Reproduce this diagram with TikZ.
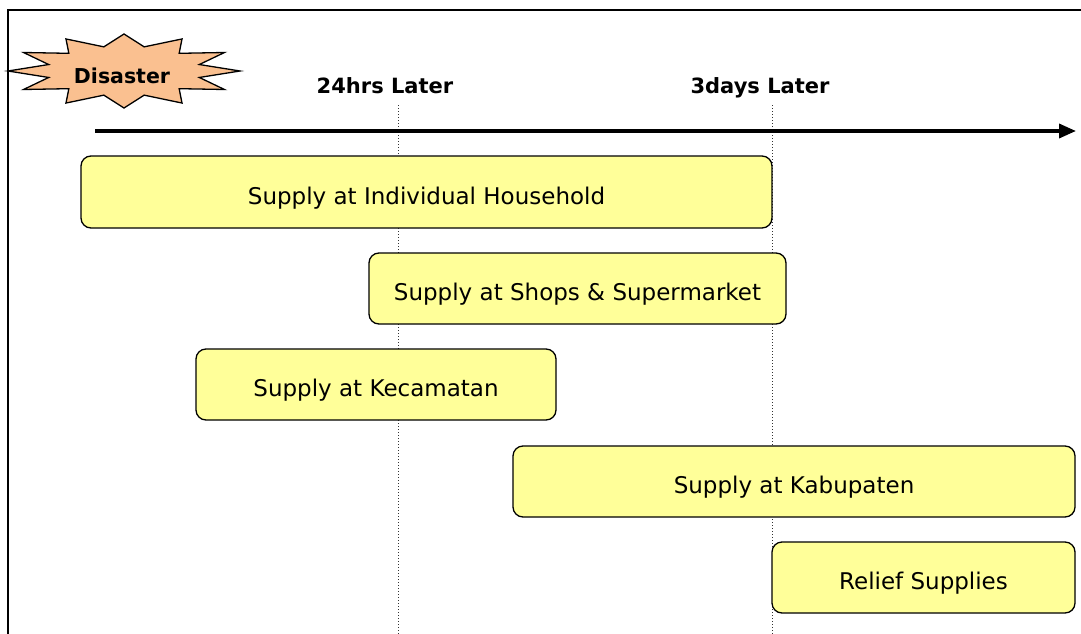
\documentclass[tikz,border=0pt]{standalone}
\usepackage{fontspec}
\setmainfont{DejaVu Sans}
\usetikzlibrary{arrows.meta}
\definecolor{phaseyellow}{HTML}{FFFF99}
\definecolor{burstpeach}{HTML}{FAC090}
\begin{document}
\begin{tikzpicture}[
    x=1pt, y=-1pt,
    phase/.style={draw, line width=1.3pt, rounded corners=10pt, fill=phaseyellow, font=\fontsize{23}{27}\selectfont, inner sep=0pt, text height=24pt, text depth=0pt},
    marker/.style={font=\fontsize{21}{25}\selectfont\bfseries, anchor=base},
    burst/.style={draw, line width=1.3pt, fill=burstpeach, line join=miter},
    timeline/.style={line width=3.5pt, -{Triangle[length=17pt,width=14pt]}},
    guide/.style={dotted, line width=1pt, black!80}
]
\useasboundingbox (0,0) rectangle (1081,634);

% Frame
\draw[line width=2pt] (8,640) -- (8,10) -- (1090,10);

% Guides
\coordinate (g1top) at (398,105);
\coordinate (g1bot) at (398,634);
\coordinate (g2top) at (772,105);
\coordinate (g2bot) at (772,634);
\draw[guide] (g1top) -- (g1bot);
\draw[guide] (g2top) -- (g2bot);

% Time axis
\coordinate (tstart) at (95,131);
\coordinate (tend) at (1076,131);
\draw[timeline] (tstart) -- (tend);

% Disaster burst
\draw[burst] plot[samples at={0,...,23}]
    ({124 + (mod(\x,2)==0 ? 116 : 78)*cos(\x*15)},
     {71 + (mod(\x,2)==0 ? 37 : 25)*sin(\x*15)}) -- cycle;
\node[font=\fontsize{20.5}{24}\selectfont\bfseries, anchor=base] (disaster) at (122,83) {Disaster};

% Labels
\node[marker] (day1) at (385,93) {24hrs Later};
\node[marker] (day3) at (760,93) {3days Later};

% Supply phases
\node[phase, minimum width=691pt, minimum height=72pt] (house) at (426.5,192) {Supply at Individual Household};
\node[phase, minimum width=417pt, minimum height=71pt] (shops) at (577.5,288.5) {Supply at Shops \& Supermarket};
\node[phase, minimum width=360pt, minimum height=71pt] (kecamatan) at (376,384.5) {Supply at Kecamatan};
\node[phase, minimum width=562pt, minimum height=71pt] (kabupaten) at (794,481.5) {Supply at Kabupaten};
\node[phase, minimum width=303pt, minimum height=71pt] (relief) at (923.5,577.5) {Relief Supplies};

\end{tikzpicture}
\end{document}
